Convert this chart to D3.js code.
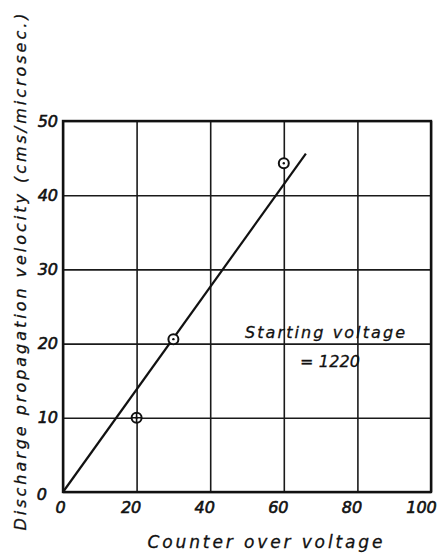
<!DOCTYPE html>
<html>
<head>
<meta charset="utf-8">
<script src="https://cdn.jsdelivr.net/npm/d3@7"></script>
<style>
  body { margin: 0; background: #fff; }
  text { font-family: "DejaVu Sans", sans-serif; font-style: italic; fill: #111; stroke: #111; stroke-width: 0.3; }
  .axis .domain { display: none; }
  .axis line { stroke: #1a1a1a; stroke-width: 1.6; }
  .axis text { font-size: 16px; stroke-width: 0.6; }
</style>
</head>
<body>
<script>
// measured points
const overVoltage = [20, 30, 60];
const velocity = [10, 20.6, 44.3];
// fitted straight line
const fitX = [0, 66];
const fitY = [0, 45.6];
// ticks
const xTicks = [0, 20, 40, 60, 80, 100];
const yTicks = [0, 10, 20, 30, 40, 50];

const width = 439;
const height = 556;
const margin = { left: 63, right: 8, top: 121, bottom: 64 };
const innerW = width - margin.left - margin.right;
const innerH = height - margin.top - margin.bottom;

const svg = d3.select('body').append('svg')
  .attr('width', width)
  .attr('height', height);

const g = svg.append('g')
  .attr('transform', 'translate(' + margin.left + ',' + margin.top + ')');

const x = d3.scaleLinear().domain([0, 100]).range([0, innerW]);
const y = d3.scaleLinear().domain([0, 50]).range([innerH, 0]);

// vertical grid + x labels
g.append('g')
  .attr('class', 'axis')
  .attr('transform', 'translate(0,' + innerH + ')')
  .call(d3.axisBottom(x).tickValues(xTicks).tickSize(-innerH).tickPadding(6))
  .selectAll('text')
  .attr('dx', d => d === 0 ? -3 : d === 100 ? -10 : -6)
  .attr('dy', '0.95em');

// horizontal grid + y labels
g.append('g')
  .attr('class', 'axis')
  .call(d3.axisLeft(y).tickValues(yTicks).tickSize(-innerW).tickPadding(5))
  .selectAll('text')
  .attr('dx', d => d === 0 ? -11 : 0)
  .attr('dy', d => d === 0 ? '0.45em' : '0.32em');

// frame
g.append('rect')
  .attr('width', innerW)
  .attr('height', innerH)
  .attr('fill', 'none')
  .attr('stroke', '#111')
  .attr('stroke-width', 2.4);

// fitted line
g.append('line')
  .attr('x1', x(fitX[0])).attr('y1', y(fitY[0]))
  .attr('x2', x(fitX[1])).attr('y2', y(fitY[1]))
  .attr('stroke', '#111')
  .attr('stroke-width', 2.2);

// points
const pts = d3.zip(overVoltage, velocity);
g.selectAll('.pt').data(pts).enter().append('circle')
  .attr('class', 'pt')
  .attr('cx', d => x(d[0])).attr('cy', d => y(d[1]))
  .attr('r', 5)
  .attr('fill', '#fff')
  .attr('stroke', '#111')
  .attr('stroke-width', 2);
g.selectAll('.dot').data(pts).enter().append('circle')
  .attr('class', 'dot')
  .attr('cx', d => x(d[0])).attr('cy', d => y(d[1]))
  .attr('r', 1.2)
  .attr('fill', '#111');
// cross through the point sitting on the grid
g.append('path')
  .attr('d', 'M' + (x(20) - 5) + ',' + y(10) + 'h10M' + x(20) + ',' + (y(10) - 5) + 'v10')
  .attr('stroke', '#111').attr('stroke-width', 1.6);

// note
g.append('text')
  .attr('x', 262).attr('y', 217)
  .attr('text-anchor', 'middle')
  .attr('font-size', 16)
  .attr('textLength', 160)
  .attr('lengthAdjust', 'spacing')
  .text('Starting voltage');
g.append('text')
  .attr('x', 267).attr('y', 246)
  .attr('text-anchor', 'middle')
  .attr('font-size', 16)
  .attr('textLength', 60)
  .attr('lengthAdjust', 'spacing')
  .text('= 1220');

// axis titles
svg.append('text')
  .attr('x', 265).attr('y', 548)
  .attr('text-anchor', 'middle')
  .attr('font-size', 17)
  .attr('textLength', 235)
  .attr('lengthAdjust', 'spacing')
  .text('Counter over voltage');

svg.append('text')
  .attr('transform', 'translate(26,272) rotate(-90)')
  .attr('text-anchor', 'middle')
  .attr('font-size', 16)
  .attr('textLength', 517)
  .attr('lengthAdjust', 'spacing')
  .text('Discharge propagation velocity (cms/microsec.)');
</script>
</body>
</html>
